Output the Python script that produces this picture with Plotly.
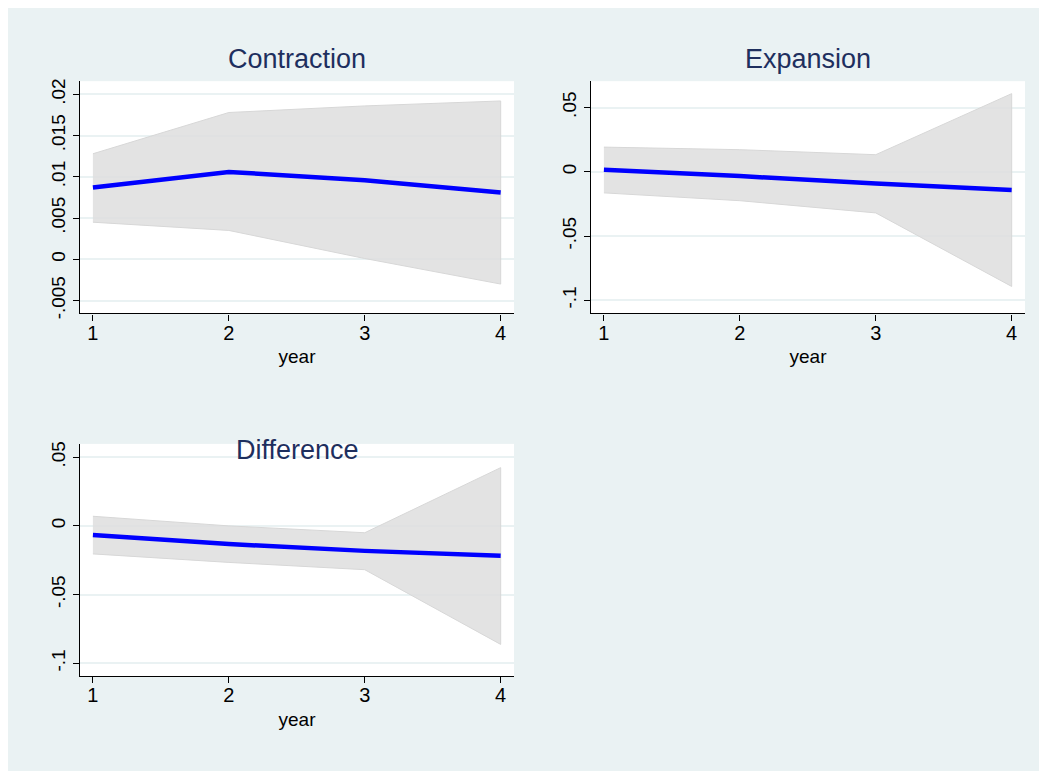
import plotly.graph_objects as go

# ---- data ----
years = [1, 2, 3, 4]

contraction_est = [0.0087, 0.0106, 0.0096, 0.0081]
contraction_hi = [0.0128, 0.0178, 0.0186, 0.0192]
contraction_lo = [0.0045, 0.0035, 0.0001, -0.0030]

expansion_est = [0.0015, -0.0033, -0.0092, -0.0141]
expansion_hi = [0.0192, 0.0172, 0.0133, 0.0608]
expansion_lo = [-0.0164, -0.0225, -0.0320, -0.0892]

difference_est = [-0.0067, -0.0132, -0.0182, -0.0218]
difference_hi = [0.0070, 0.0000, -0.0050, 0.0424]
difference_lo = [-0.0204, -0.0266, -0.0319, -0.0863]

titles = ["Contraction", "Expansion", "Difference"]

contraction_ticks = [-0.005, 0, 0.005, 0.01, 0.015, 0.02]
contraction_ticktext = ["-.005", "0", ".005", ".01", ".015", ".02"]
wide_ticks = [-0.1, -0.05, 0, 0.05]
wide_ticktext = ["-.1", "-.05", "0", ".05"]

# ---- style ----
OFF = 8  # default page body margin
W, H = 1047, 771
BG = "#EAF2F3"
LINE = "#0000FF"
BAND = "rgba(222,222,222,0.85)"
TITLE_C = "#1E2F5E"
FONT = "Liberation Sans, Arial, sans-serif"

fig = go.Figure()

panels = [
    (contraction_est, contraction_hi, contraction_lo, "x", "y"),
    (expansion_est, expansion_hi, expansion_lo, "x2", "y2"),
    (difference_est, difference_hi, difference_lo, "x3", "y3"),
]
for est, hi, lo, xa, ya in panels:
    fig.add_trace(go.Scatter(
        x=years + years[::-1], y=hi + lo[::-1], mode="lines",
        fill="toself", fillcolor=BAND, line=dict(color="rgba(215,215,215,1)", width=1),
        xaxis=xa, yaxis=ya, showlegend=False, hoverinfo="skip"))
    fig.add_trace(go.Scatter(
        x=years, y=est, mode="lines", line=dict(color=LINE, width=4.5),
        xaxis=xa, yaxis=ya, showlegend=False))

def px_x(p):
    return (p - OFF) / W

def px_y(p):
    return 1 - (p - OFF) / H

dom = {
    "1": ([px_x(80), px_x(514)], [px_y(314), px_y(79)]),
    "2": ([px_x(591), px_x(1025)], [px_y(314), px_y(79)]),
    "3": ([px_x(80), px_x(514)], [px_y(681), px_y(446)]),
}
yranges = {"1": [-0.00656, 0.0216], "2": [-0.1102, 0.0705], "3": [-0.1094, 0.0597]}
yticks = {"1": (contraction_ticks, contraction_ticktext),
          "2": (wide_ticks, wide_ticktext),
          "3": (wide_ticks, wide_ticktext)}

layout = dict(
    width=W, height=H, margin=dict(l=0, r=0, t=0, b=0),
    paper_bgcolor=BG, plot_bgcolor="white",
    font=dict(family=FONT, color="black", size=19),
    annotations=[],
)
for k in ["1", "2", "3"]:
    sx = "" if k == "1" else k
    xd, yd = dom[k]
    tv, tt = yticks[k]
    layout["xaxis" + sx] = dict(
        domain=xd, range=[0.905, 4.098], anchor="y" + sx,
        tickvals=years, ticktext=[str(v) for v in years],
        showline=True, linecolor="black", linewidth=1.3, mirror=False,
        ticks="outside", ticklen=6, tickcolor="black", showgrid=False, zeroline=False,
        ticklabelstandoff=-5,
        tickfont=dict(size=20, family=FONT),
        title=dict(text="year", font=dict(size=19, family=FONT), standoff=7))
    layout["yaxis" + sx] = dict(
        domain=yd, range=yranges[k], anchor="x" + sx,
        tickvals=tv, ticktext=tt, tickangle=-90,
        showline=True, linecolor="black", linewidth=1.3,
        ticks="outside", ticklen=6, tickcolor="black",
        showgrid=True, gridcolor=BG, gridwidth=1.5, zeroline=False,
        tickfont=dict(size=19, family=FONT))

title_pos = [(297, 57), (808, 57), (297, 452)]
for t, (cx, cy) in zip(titles, title_pos):
    layout["annotations"].append(dict(
        text=t, x=px_x(cx), y=px_y(cy), xref="paper", yref="paper",
        xanchor="center", yanchor="middle", showarrow=False,
        font=dict(size=27, color=TITLE_C, family=FONT)))

fig.update_layout(**layout)
fig.write_html("out.html")
